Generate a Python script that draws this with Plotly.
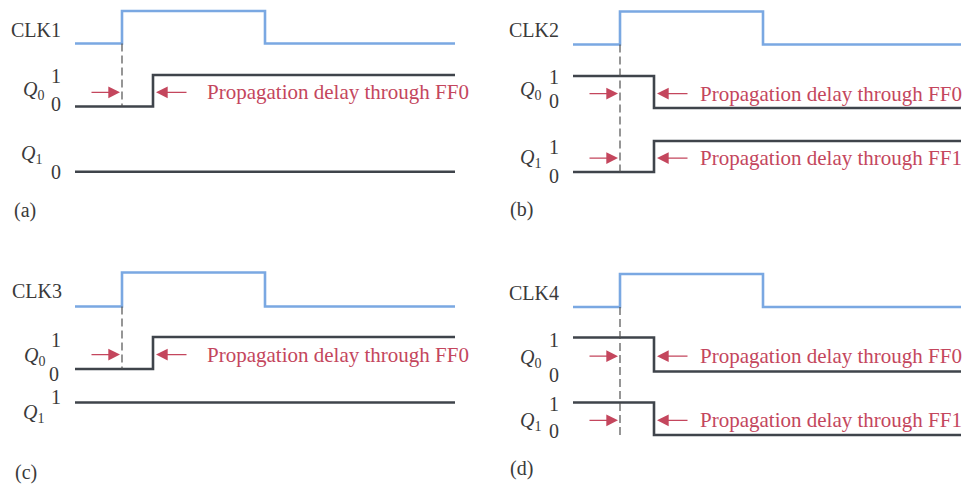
import plotly.graph_objects as go

W, H = 967, 491

# ---------------- data (time units, logic levels) ----------------
clk_t_left = [0.0, 4.7, 19.0, 38.0]
clk_t_right = [0.0, 4.7, 19.0, 38.8]
clk_level = [0, 1, 0, 0]

q_t_left = [0.0, 7.8, 38.0]
q_t_right = [0.0, 8.1, 38.8]

q0_a = [0, 1, 1]
q1_a = [0, 0, 0]
q0_b = [1, 0, 0]
q1_b = [0, 1, 1]
q0_c = [0, 1, 1]
q1_c = [1, 1, 1]
q0_d = [1, 0, 0]
q1_d = [1, 0, 0]

clk_names = ["CLK1", "CLK2", "CLK3", "CLK4"]
panel_tags = ["(a)", "(b)", "(c)", "(d)"]
delay_ff0 = "Propagation delay through FF0"
delay_ff1 = "Propagation delay through FF1"

# ---------------- layout helpers ----------------
CLK_COLOR = "#7aa8e2"
Q_COLOR = "#3f444b"
RED = "#c4465d"
TXT = "#3a3a3a"
FONT = "Liberation Serif"


def py(px):
    return 1 - px / H


def px_x(px):
    return px / W


PAD = 0.2

# panel definitions: x pixel span, rows (y pixel of level 0, level 1)
panels = [
    dict(xs=(75, 455), t_clk=clk_t_left, t_q=q_t_left, q0=q0_a, q1=q1_a,
         rows=[(43.5, 11), (106.5, 75), (171.7, 140)], dash_row=1,
         arrows=[1], texts=[(1, delay_ff0)], text_x=205),
    dict(xs=(573, 961), t_clk=clk_t_right, t_q=q_t_right, q0=q0_b, q1=q1_b,
         rows=[(44.5, 11.5), (108, 76), (172, 141)], dash_row=2,
         arrows=[1, 2], texts=[(1, delay_ff0), (2, delay_ff1)], text_x=698),
    dict(xs=(75, 455), t_clk=clk_t_left, t_q=q_t_left, q0=q0_c, q1=q1_c,
         rows=[(306.5, 272.5), (369, 337), (434, 402.5)], dash_row=1,
         arrows=[1], texts=[(1, delay_ff0)], text_x=205),
    dict(xs=(573, 961), t_clk=clk_t_right, t_q=q_t_right, q0=q0_d, q1=q1_d,
         rows=[(307, 274), (371.5, 337.5), (435, 402.5)], dash_row=2,
         arrows=[1, 2], texts=[(1, delay_ff0), (2, delay_ff1)], text_x=698),
]

fig = go.Figure()
layout = {}
shapes = []
annotations = []

yi = 0
for pi, p in enumerate(panels):
    xn = pi + 1
    xname = "x" if xn == 1 else f"x{xn}"
    xkey = "xaxis" if xn == 1 else f"xaxis{xn}"
    tend = p["t_clk"][-1]
    xpad = 0.3
    xspan = p["xs"][1] - p["xs"][0]
    ppu_x = xspan / tend
    layout[xkey] = dict(domain=[px_x(p["xs"][0] - xpad * ppu_x), min(1, px_x(p["xs"][1] + xpad * ppu_x))],
                        range=[-xpad, tend + xpad], visible=False, fixedrange=True)
    series = [(p["t_clk"], clk_level, CLK_COLOR),
              (p["t_q"], p["q0"], Q_COLOR),
              (p["t_q"], p["q1"], Q_COLOR)]
    ynames = []
    for ri, ((t, lv, col), (y0px, y1px)) in enumerate(zip(series, p["rows"])):
        yi += 1
        yname = "y" if yi == 1 else f"y{yi}"
        ykey = "yaxis" if yi == 1 else f"yaxis{yi}"
        ppu = y0px - y1px
        layout[ykey] = dict(domain=[py(y0px + PAD * ppu), py(y1px - PAD * ppu)],
                            range=[-PAD, 1 + PAD], visible=False, anchor=xname, fixedrange=True)
        ynames.append(yname)
        fig.add_trace(go.Scatter(x=t, y=lv, mode="lines", line=dict(color=col, width=2.6, shape="hv"),
                                 xaxis=xname, yaxis=yname, hoverinfo="skip", showlegend=False))
    layout[xkey]["anchor"] = ynames[0]

    rise = p["t_clk"][1]
    edge = p["t_q"][1]
    # dashed reference line at clock edge
    shapes.append(dict(type="line", xref=xname, yref="paper", x0=rise, x1=rise,
                       y0=py(p["rows"][0][0]), y1=py(p["rows"][p["dash_row"]][0]),
                       line=dict(color="#505050", width=1.2, dash="8px,4px")))
    for ri in p["arrows"]:
        annotations.append(dict(xref=xname, yref=ynames[ri], x=rise, y=0.45, text="",
                                showarrow=True, ax=-32, ay=0, arrowhead=2,
                                arrowsize=1.8, arrowwidth=1.3, arrowcolor=RED, standoff=2))
        annotations.append(dict(xref=xname, yref=ynames[ri], x=edge, y=0.45, text="",
                                showarrow=True, ax=35, ay=0, arrowhead=2,
                                arrowsize=1.8, arrowwidth=1.3, arrowcolor=RED, standoff=3))
    for ri, txt in p["texts"]:
        annotations.append(dict(xref="paper", yref=ynames[ri], x=px_x(p["text_x"]), y=0.45,
                                text=txt, showarrow=False, xanchor="left", yanchor="middle",
                                font=dict(family=FONT, size=21, color=RED)))

# ---------------- text labels (pixel positions) ----------------
labels = [
    # panel a
    (36, 30, "CLK1"), (33, 91, "<i>Q</i><sub>0</sub>"), (56, 76, "1"), (56, 104, "0"),
    (31, 154, "<i>Q</i><sub>1</sub>"), (56, 172, "0"), (25, 210, "(a)"),
    # panel b
    (534, 30, "CLK2"), (530, 91, "<i>Q</i><sub>0</sub>"), (554, 77, "1"), (554, 101, "0"),
    (530, 158, "<i>Q</i><sub>1</sub>"), (554, 147, "1"), (554, 176, "0"), (521, 209, "(b)"),
    # panel c
    (37, 291, "CLK3"), (34, 356, "<i>Q</i><sub>0</sub>"), (56, 340, "1"), (54, 374, "0"),
    (33, 413, "<i>Q</i><sub>1</sub>"), (56, 397, "1"), (26, 472, "(c)"),
    # panel d
    (534, 293, "CLK4"), (530, 358, "<i>Q</i><sub>0</sub>"), (554, 340, "1"), (554, 375, "0"),
    (530, 421, "<i>Q</i><sub>1</sub>"), (554, 404, "1"), (554, 431, "0"), (521, 468, "(d)"),
]
for x, y, t in labels:
    annotations.append(dict(xref="paper", yref="paper", x=px_x(x), y=py(y), text=t,
                            showarrow=False, xanchor="center", yanchor="middle",
                            font=dict(family=FONT, size=20, color=TXT)))

fig.update_layout(width=W, height=H, margin=dict(l=0, r=0, t=0, b=0),
                  paper_bgcolor="white", plot_bgcolor="white", showlegend=False,
                  shapes=shapes, annotations=annotations, **layout)

fig.write_html("out.html", config={"displayModeBar": False},
               post_script="document.body.style.margin='0';document.body.style.overflow='hidden';")
